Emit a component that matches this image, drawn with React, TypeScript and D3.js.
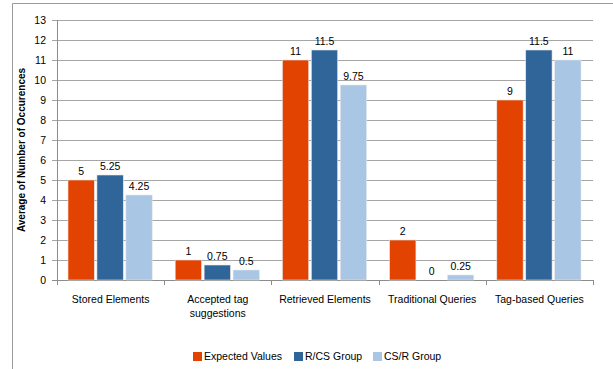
import React, { useEffect, useRef } from "react";
import * as d3 from "d3";

const categories = [
  ["Stored Elements"],
  ["Accepted tag", "suggestions"],
  ["Retrieved Elements"],
  ["Traditional Queries"],
  ["Tag-based Queries"],
];
const seriesNames = ["Expected Values", "R/CS Group", "CS/R Group"];
const seriesColors = ["#E24300", "#2F6599", "#A9C6E5"];
const expectedValues = [5, 1, 11, 2, 9];
const rcsGroup = [5.25, 0.75, 11.5, 0, 11.5];
const csrGroup = [4.25, 0.5, 9.75, 0.25, 11];
const yTicks = d3.range(0, 14);

const W = 613;
const H = 369;
const FONT = "'Liberation Sans', Arial, sans-serif";

const App: React.FC = () => {
  const ref = useRef<SVGSVGElement | null>(null);

  useEffect(() => {
    if (!ref.current) return;
    const svg = d3.select(ref.current);
    svg.selectAll("*").remove();

    const margin = { top: 20, right: 20, bottom: 89, left: 57 };
    const chartWidth = 593 - margin.left;
    const chartHeight = 280 - margin.top;
    const values = [expectedValues, rcsGroup, csrGroup];

    // outer frame (top and left edges visible)
    svg.append("line").attr("x1", 12.5).attr("x2", W).attr("y1", 3.5).attr("y2", 3.5)
      .attr("stroke", "#9a9a9a").attr("stroke-width", 1);
    svg.append("line").attr("x1", 12.5).attr("x2", 12.5).attr("y1", 3.5).attr("y2", H)
      .attr("stroke", "#9a9a9a").attr("stroke-width", 1);

    const x0 = d3.scaleBand<number>().domain(d3.range(categories.length)).range([0, chartWidth]);
    const x1 = d3.scaleBand<number>().domain(d3.range(seriesNames.length))
      .range([11, x0.bandwidth() - 12]).paddingInner(0.09);
    const y = d3.scaleLinear().domain([0, 13]).range([chartHeight, 0]);

    const g = svg.append("g").attr("transform", `translate(${margin.left},${margin.top})`);

    // gridlines
    g.append("g").selectAll("line").data(yTicks).join("line")
      .attr("x1", -5).attr("x2", chartWidth)
      .attr("y1", (d) => Math.round(y(d)) + 0.5).attr("y2", (d) => Math.round(y(d)) + 0.5)
      .attr("stroke", (d) => (d === 0 ? "#8c8c8c" : "#a6a6a6")).attr("stroke-width", 1);

    // y axis line
    g.append("line").attr("x1", 0.5).attr("x2", 0.5).attr("y1", 0).attr("y2", chartHeight)
      .attr("stroke", "#8c8c8c");

    // y tick labels
    g.append("g").selectAll("text").data(yTicks).join("text")
      .attr("x", -11).attr("y", (d) => y(d)).attr("dy", "0.35em")
      .attr("text-anchor", "end").attr("font-family", FONT).attr("font-size", 10.5)
      .attr("fill", "#000").text((d) => d);

    // x ticks at band boundaries
    g.append("g").selectAll("line").data(d3.range(categories.length + 1)).join("line")
      .attr("x1", (i) => Math.round(i * x0.step()) + 0.5).attr("x2", (i) => Math.round(i * x0.step()) + 0.5)
      .attr("y1", chartHeight).attr("y2", chartHeight + 5).attr("stroke", "#8c8c8c");

    // bars
    categories.forEach((_, ci) => {
      const cg = g.append("g").attr("transform", `translate(${x0(ci)},0)`);
      values.forEach((vals, si) => {
        const v = vals[ci];
        if (v > 0) {
          cg.append("rect")
            .attr("x", x1(si)!).attr("width", x1.bandwidth())
            .attr("y", y(v)).attr("height", chartHeight - y(v))
            .attr("fill", seriesColors[si])
            .attr("stroke", "#e8e8e8").attr("stroke-width", 0.6);
        }
        cg.append("text")
          .attr("x", x1(si)! + x1.bandwidth() / 2).attr("y", y(v) - 5)
          .attr("text-anchor", "middle").attr("font-family", FONT).attr("font-size", 10.5)
          .attr("fill", "#000").text(v);
      });
    });

    // category labels
    categories.forEach((lines, ci) => {
      const t = g.append("text")
        .attr("x", x0(ci)! + x0.bandwidth() / 2).attr("y", chartHeight + 23)
        .attr("text-anchor", "middle").attr("font-family", FONT).attr("font-size", 10.5)
        .attr("fill", "#000");
      lines.forEach((l, li) => {
        t.append("tspan").attr("x", x0(ci)! + x0.bandwidth() / 2).attr("dy", li === 0 ? 0 : 14).text(l);
      });
    });

    // y axis title
    svg.append("text")
      .attr("transform", `translate(25,${margin.top + chartHeight / 2}) rotate(-90)`)
      .attr("text-anchor", "middle").attr("font-family", FONT).attr("font-size", 10)
      .attr("font-weight", "bold").attr("fill", "#000")
      .text("Average of Number of Occurences");

    // legend
    const legendX = [193, 294, 373];
    seriesNames.forEach((name, i) => {
      const lg = svg.append("g").attr("transform", `translate(${legendX[i]},352)`);
      lg.append("rect").attr("width", 9).attr("height", 9).attr("fill", seriesColors[i]);
      lg.append("text").attr("x", 11).attr("y", 4.5).attr("dy", "0.35em")
        .attr("font-family", FONT).attr("font-size", 10.5).attr("fill", "#000").text(name);
    });
  }, []);

  return (
    <svg
      ref={ref}
      width={W}
      height={H}
      style={{ position: "absolute", left: 0, top: 0, background: "#fff" }}
    ></svg>
  );
};

export default App;
